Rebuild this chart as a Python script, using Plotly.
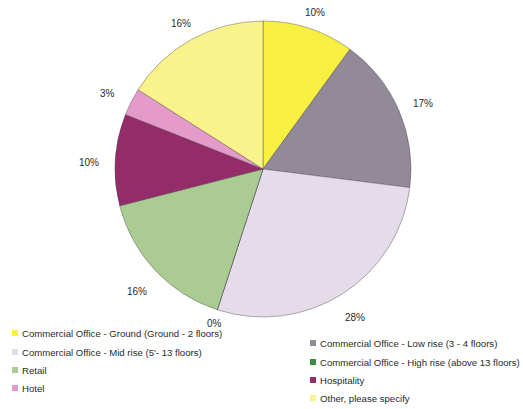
import math
import plotly.graph_objects as go

# Share of responses by building type (percent)
categories = [
    "Commercial Office - Ground (Ground - 2 floors)",
    "Commercial Office - Low rise (3 - 4 floors)",
    "Commercial Office - Mid rise (5'- 13 floors)",
    "Commercial Office - High rise (above 13 floors)",
    "Retail",
    "Hospitality",
    "Hotel",
    "Other, please specify",
]
values = [10, 17, 28, 0, 16, 10, 3, 16]
colors = ["#F8F041", "#928A98", "#E4DCE8", "#3F8A45",
          "#AACC92", "#952C6A", "#E49BCC", "#FAF38C"]

W, H = 523, 409
CX, CY, R = 263, 169, 148  # pie centre and radius in pixels

fig = go.Figure(go.Pie(
    labels=categories,
    values=values,
    sort=False,
    direction="clockwise",
    rotation=0,
    textinfo="none",
    hoverinfo="label+percent",
    marker=dict(colors=colors, line=dict(color="rgba(70,60,70,0.5)", width=0.8)),
    domain=dict(x=[(CX - R) / W, (CX + R) / W],
                y=[(H - CY - R) / H, (H - CY + R) / H]),
    showlegend=False,
))

# Percentage labels placed just outside the rim at each slice's mid-angle
total = sum(values)
annotations = []
cum = 0.0
for v in values:
    mid = (cum + v / 2) / total * 2 * math.pi
    cum += v
    if v == 0:
        r = R + 10
    else:
        r = R + 14 + abs(math.sin(mid)) * 12 + abs(math.cos(mid)) * 3
    px = CX + r * math.sin(mid)
    py = CY - r * math.cos(mid) + 4
    annotations.append(dict(
        x=px / W, y=1 - py / H, xref="paper", yref="paper",
        text=f"{round(100 * v / total)}%", showarrow=False,
        xanchor="center", yanchor="middle",
        font=dict(family="Liberation Sans, Arial", size=10, color="#2a2a2a"),
    ))

# Two-column legend: left column rows, right column rows (offset lower)
left_items = [0, 2, 4, 6]
right_items = [1, 3, 5, 7]
left_rows = [333, 352, 370, 388]
right_rows = [343, 362, 380, 398]
shapes = []
for idx_list, rows, x0 in ((left_items, left_rows, 12), (right_items, right_rows, 310)):
    for i, yy in zip(idx_list, rows):
        shapes.append(dict(
            type="rect", xref="paper", yref="paper",
            x0=x0 / W, x1=(x0 + 6) / W,
            y0=1 - (yy + 3) / H, y1=1 - (yy - 3) / H,
            fillcolor=colors[i], line=dict(width=0),
        ))
        annotations.append(dict(
            x=(x0 + 8) / W, y=1 - yy / H, xref="paper", yref="paper",
            text=categories[i], showarrow=False,
            xanchor="left", yanchor="middle",
            font=dict(family="Liberation Sans, Arial", size=9.6, color="#2a2a2a"),
        ))

fig.update_layout(
    width=W, height=H,
    margin=dict(l=0, r=0, t=0, b=0),
    paper_bgcolor="white",
    plot_bgcolor="white",
    annotations=annotations,
    shapes=shapes,
)

fig.write_html("out.html")
